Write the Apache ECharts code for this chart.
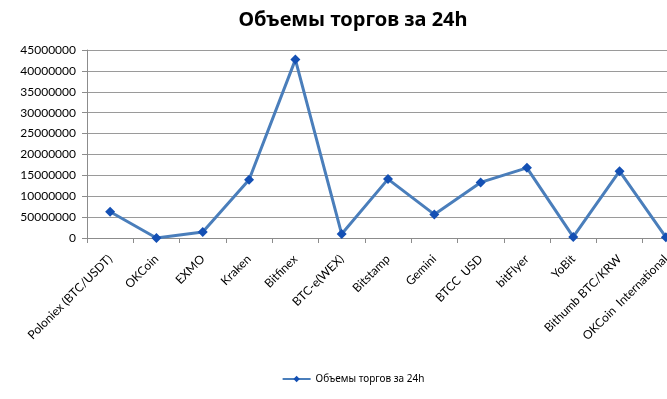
<!DOCTYPE html>
<html>
<head>
<meta charset="utf-8">
<script src="https://cdn.jsdelivr.net/npm/echarts@6/dist/echarts.min.js"></script>
<style>
  html, body { margin: 0; padding: 0; background: #fff; overflow: hidden; }
  #chart { width: 706px; height: 399px; }
</style>
</head>
<body>
<div id="chart"></div>
<script>
// биржи и объемы торгов
var exchanges = ['Poloniex (BTC/USDT)', 'OKCoin', 'EXMO', 'Kraken', 'Bitfinex', 'BTC-e(WEX)',
  'Bitstamp', 'Gemini', 'BTCC  USD', 'bitFlyer', 'YoBit', 'Bithumb BTC/KRW', 'OKCoin  International'];
var volumes = [6300000, 0, 1450000, 13950000, 42700000, 950000,
  14100000, 5650000, 13300000, 16800000, 250000, 16000000, 200000];
var yTickLabels = ['0', '50000000', '10000000', '15000000', '20000000', '25000000',
  '30000000', '35000000', '40000000', '45000000'];
var seriesName = 'Объемы торгов за 24h';

// график шире окна, правый край обрезан как в оригинале
var chart = echarts.init(document.getElementById('chart'));

var option = {
  animation: false,
  title: {
    text: 'Объемы торгов за 24h',
    left: 'center',
    top: 5,
    textStyle: { fontFamily: 'Noto Sans', fontWeight: 'bold', fontSize: 20, color: '#000' }
  },
  legend: {
    bottom: 10,
    left: 'center',
    itemWidth: 28,
    itemHeight: 8,
    itemGap: 4,
    data: [seriesName],
    textStyle: { fontFamily: 'Noto Sans', fontSize: 10, color: '#000' }
  },
  grid: { left: 87, top: 50, bottom: 161, right: 17 },
  xAxis: {
    type: 'category',
    data: exchanges,
    boundaryGap: true,
    axisLine: { lineStyle: { color: '#8c8c8c', width: 1 } },
    axisTick: { show: true, interval: 0, length: 5, lineStyle: { color: '#8c8c8c' } },
    axisLabel: {
      interval: 0,
      rotate: 45,
      margin: 19,
      fontFamily: 'Lato',
      fontSize: 12,
      color: '#000'
    }
  },
  yAxis: {
    type: 'value',
    min: 0,
    max: 45000000,
    interval: 5000000,
    axisLine: { show: true, lineStyle: { color: '#8c8c8c', width: 1 } },
    axisTick: { show: true, length: 5, lineStyle: { color: '#8c8c8c' } },
    splitLine: { lineStyle: { color: '#9a9a9a', width: 1.2 } },
    axisLabel: {
      margin: 11,
      fontFamily: 'Lato',
      fontSize: 12,
      color: '#000',
      formatter: function (v) {
        return yTickLabels[Math.round(v / 5000000)];
      }
    }
  },
  series: [{
    name: seriesName,
    type: 'line',
    data: volumes,
    symbol: 'diamond',
    symbolSize: 10,
    lineStyle: { color: '#4a7ebb', width: 3 },
    itemStyle: { color: '#1450b4', borderWidth: 0 }
  }]
};

chart.setOption(option);
</script>
</body>
</html>
